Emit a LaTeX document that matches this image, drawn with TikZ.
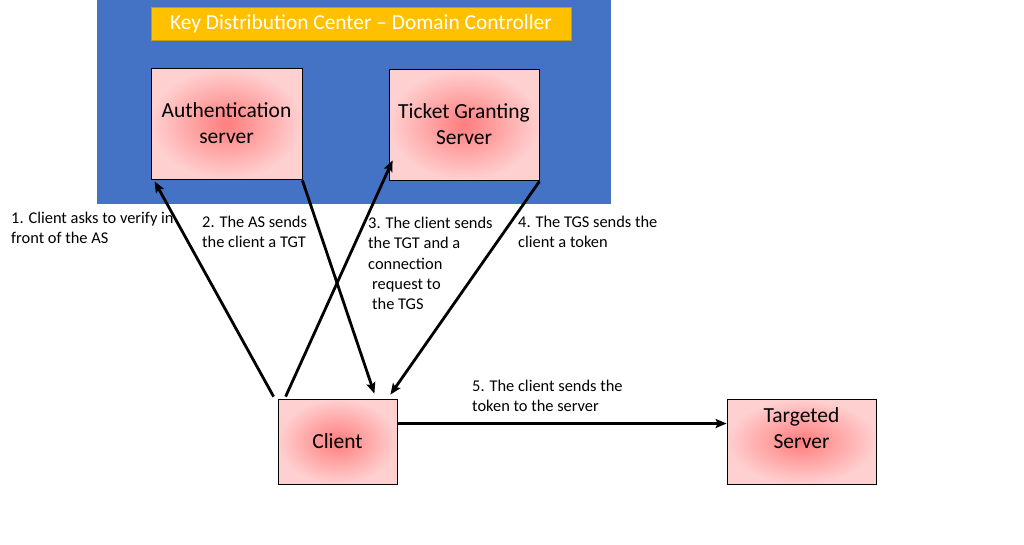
\documentclass[tikz,border=0pt]{standalone}
\usepackage{fontspec}
\setmainfont{Carlito}
\usetikzlibrary{arrows.meta,calc}
\definecolor{kdcblue}{RGB}{68,114,196}
\definecolor{kdcyellow}{RGB}{255,192,0}
\definecolor{boxin}{RGB}{255,125,125}
\definecolor{boxout}{RGB}{255,208,208}
\tikzset{
  srvbox/.style={draw=black, line width=0.8pt, shading=radial, inner color=boxin, outer color=boxout,
    align=center, font=\fontsize{21.5}{26}\selectfont, inner sep=0pt},
  flow/.style={line width=2.8pt, -{Stealth[length=11pt,width=9pt,inset=2pt]}},
  lbl/.style={anchor=north west, align=left, inner sep=0pt, font=\fontsize{16.4}{20.3}\selectfont}
}
\begin{document}
\begin{tikzpicture}[x=1pt,y=-1pt]
\useasboundingbox (0,0) rectangle (1024,544);
\fill[white] (0,0) rectangle (1024,544);
% KDC background
\node[fill=kdcblue, minimum width=514pt, minimum height=204pt, inner sep=0pt, anchor=north west] (KDC) at (97,0) {};
\node[fill=kdcyellow, draw=kdcyellow!80!black, line width=0.4pt, minimum width=420pt, minimum height=33pt, inner sep=0pt,
  text=white, font=\fontsize{21.4}{24}\selectfont] (title) at (361,23.5) {Key Distribution Center -- Domain Controller};
% servers
\node[srvbox, minimum width=151pt, minimum height=111pt] (AS) at (226.5,123.5) {Authentication\\server};
\node[srvbox, minimum width=150pt, minimum height=111pt] (TGS) at (464,124.5) {Ticket Granting\\Server};
\node[srvbox, minimum width=119pt, minimum height=85pt] (C) at (337.5,441.5) {Client};
\node[srvbox, minimum width=149pt, minimum height=85pt] (T) at (801.5,441.5) {Targeted\\Server\\\mbox{}};
% arrows
\draw[flow] ([xshift=-4pt,yshift=2pt]C.north west) -- ([xshift=4pt,yshift=-2pt]AS.south west);
\draw[flow] ([yshift=-1pt]AS.south east) -- ([xshift=-23pt,yshift=5pt]C.north east);
\draw[flow] ([xshift=8pt,yshift=2pt]C.north west) -- ([xshift=4pt,yshift=20pt]TGS.south west);
\draw[flow] ([yshift=-1pt]TGS.south east) -- ([xshift=-7pt,yshift=4pt]C.north east);
\draw[flow] ([yshift=18pt]C.east) -- ([yshift=18pt]T.west);
% labels
\node[lbl] (l1) at (11,212) {1. Client asks to verify in\\front of the AS};
\node[lbl] (l2) at (202,216) {2. The AS sends\\the client a TGT};
\node[lbl] (l3) at (368,217) {3. The client sends\\the TGT and a\\connection\\\hspace*{4pt}request to\\\hspace*{4pt}the TGS};
\node[lbl] (l4) at (518,216) {4. The TGS sends the\\client a token};
\node[lbl] (l5) at (472,380) {5. The client sends the\\token to the server};
\end{tikzpicture}
\end{document}
